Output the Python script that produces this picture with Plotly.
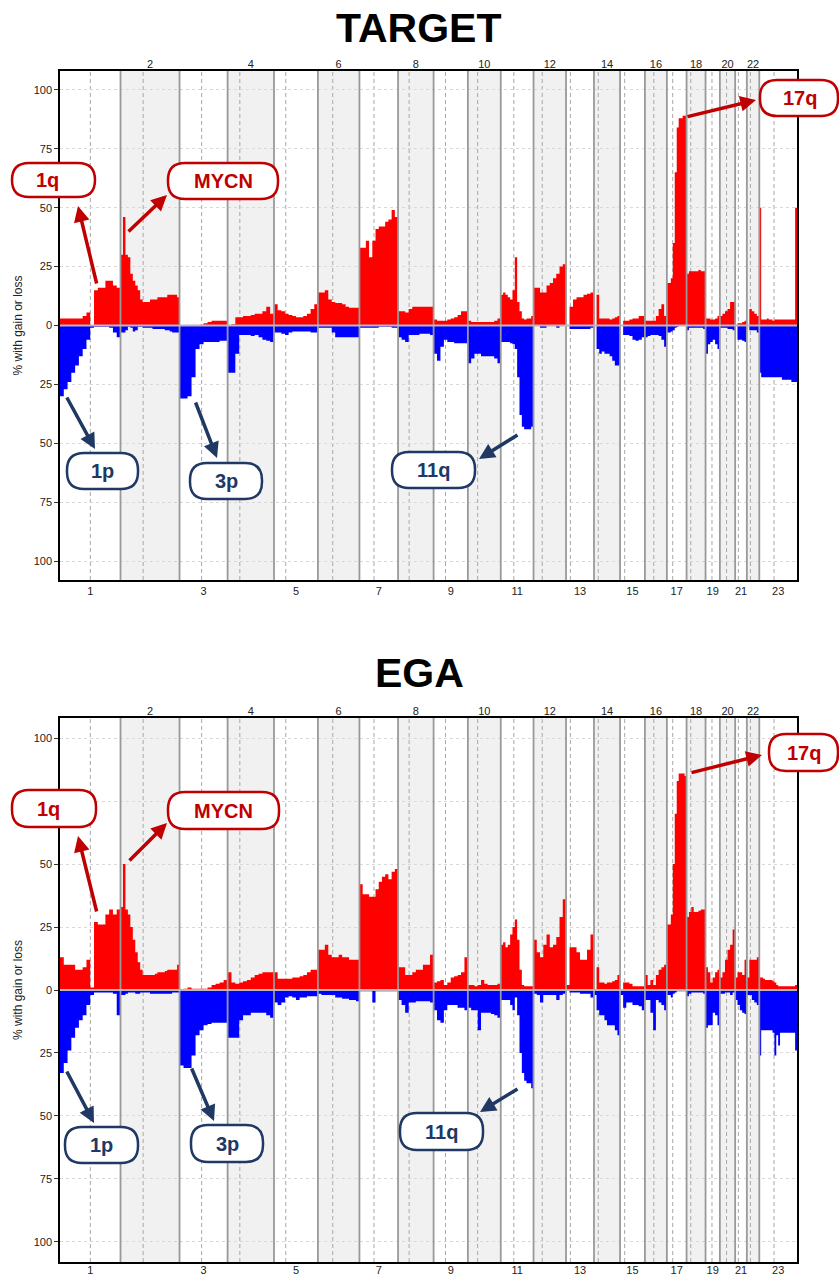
import plotly.graph_objects as go

# ---------------- data ----------------
CHROM_LABELS = ['1', '2', '3', '4', '5', '6', '7', '8', '9', '10', '11', '12',
                '13', '14', '15', '16', '17', '18', '19', '20', '21', '22', '23']
CHROM_LEN = [249.25, 243.2, 198.0, 191.15, 180.9, 171.1, 159.1, 146.4, 141.2, 135.5,
             135.0, 133.9, 115.2, 107.3, 102.5, 90.4, 81.2, 78.1, 59.1, 63.0, 48.1, 51.3, 155.3]
CENTROMERE = [125.0, 93.3, 91.0, 50.4, 48.4, 61.0, 59.9, 45.6, 49.0, 40.2, 53.7, 35.8,
              17.9, 17.6, 19.0, 36.6, 24.0, 17.2, 26.5, 27.5, 13.2, 14.7, 60.6]
Y_TICKS = [-100, -75, -50, -25, 0, 25, 50, 75, 100]
Y_TICK_TEXT = ['100', '75', '50', '25', '0', '25', '50', '75', '100']
# in the EGA panel the upper "75" label sits behind the 1q box
Y_TICK_TEXT_EGA = ['100', '75', '50', '25', '0', '25', '50', '', '100']

# % of samples with gain / loss, equal-width bins along each chromosome
TARGET_GAIN = [
    [3, 3, 3, 3, 3, 3, 4, 5.5, 0, 15, 16, 16, 19, 19, 17, 16],
    [30, 46, 30, 29, 22, 19, 17, 15, 11, 10, 10, 10, 11, 11, 11, 12, 12, 12, 12, 13, 13, 13, 13, 12],
    [0, 0, 0, 0, 0, 0.3, 1, 1.5, 2, 2, 2, 2],
    [0, 0.5, 3.5, 3.5, 4, 4, 4.5, 5, 5, 6, 8, 5],
    [9, 6.5, 6, 5, 4.5, 4, 3.5, 3.5, 4, 5, 7, 9],
    [14, 14, 15, 11, 10, 9.5, 9.5, 9, 8, 7.5, 7.5, 7.5],
    [33, 33, 36, 29, 36, 41, 42, 42, 44, 45, 49, 46],
    [6, 6, 5.5, 7, 8, 8, 8, 8, 8, 8],
    [2.5, 2, 2, 2, 2.5, 3, 3.5, 4.5, 6, 6],
    [2, 1.5, 1.5, 1.5, 1.5, 1.5, 1.5, 1.5, 2, 3],
    [13, 14, 13, 12, 11, 15, 29, 10, 6, 3, 2.5, 3, 3, 4],
    [16, 16, 14, 14, 17, 18, 20, 22, 25, 26],
    [0, 8, 11, 12, 12, 13, 13.5, 14],
    [0, 13, 3, 3, 3, 3, 2.5, 3, 3.5, 4],
    [0, 2, 2, 2.5, 3, 3, 4, 4],
    [2, 2, 2, 2, 4, 7, 9, 4],
    [18, 18, 20, 35, 65, 84, 88, 88, 89, 89],
    [22, 23, 23, 23, 23, 23.5, 23, 23],
    [3, 3, 2.5, 2.5, 3, 4],
    [4, 5, 6, 7, 10, 10],
    [0, 1, 1, 1.5, 2],
    [0, 7, 6, 5, 4],
    [50, 2.5, 2.5, 2.5, 3, 2.5, 2.5, 2, 2.5, 2.5, 2.5, 2.5, 2.5, 2.5, 2.5, 2.5, 2.5, 2.5, 2.5, 50],
]
TARGET_LOSS = [
    [30, 27, 24, 20, 17, 13, 10, 6, 1, 0.5, 0.5, 0.5, 0.5, 1, 3, 5],
    [3, 3, 2, 0.5, 1, 2.5, 2, 0.5, 0.5, 1, 1, 1, 1, 1.5, 1.5, 1.5, 1.5, 1.5, 2, 2, 2.5, 3, 3, 3],
    [31, 31, 30, 22, 10, 8, 7, 7, 7, 7, 6.5, 6.5],
    [20, 20, 12, 4, 4, 4, 4.5, 4, 5, 6, 6.5, 7],
    [3, 3, 3.5, 4, 3, 2.5, 2.5, 2.5, 2.5, 2.5, 3, 3],
    [1, 1, 1, 1, 3, 5, 5, 5, 5, 5, 5, 5],
    [1, 1, 1, 1, 1, 1, 0.5, 0.5, 0.5, 0.5, 1, 1],
    [5, 6, 7, 4, 4, 4, 3.5, 3.5, 3.5, 4],
    [12, 15, 9, 6, 7, 7, 7.5, 7.5, 7.5, 7.5],
    [16, 14, 12, 12, 13, 13, 13, 13, 14, 16],
    [7, 7, 7, 7, 7.5, 8, 10, 22, 38, 43, 44, 44, 44, 43],
    [0, 0, 1, 1, 0, 0, 0, 1, 0, 0],
    [0, 1.5, 1.5, 1.5, 1.5, 1.5, 1.5, 1],
    [0, 10, 12, 11, 12, 12, 13, 15, 17, 17],
    [0, 4, 4, 4.5, 6, 6.5, 6, 5],
    [5, 4.5, 4, 4, 4, 4.5, 6, 9],
    [3, 3, 2.5, 2, 1, 0.5, 0, 0, 0, 0],
    [2, 1, 1, 1, 1, 1, 1, 1.5],
    [12, 8, 7, 6, 8, 10],
    [1, 1, 1, 1.5, 1.5, 2],
    [0, 6, 6, 6.5, 7],
    [0, 2, 2, 2, 3],
    [20, 22, 22, 22, 22, 22, 22, 22, 22, 22, 22, 22, 23, 23, 23, 23, 23, 24, 24, 24],
]
EGA_GAIN = [
    [13, 10, 10, 10, 8, 8, 9, 12, 1, 27, 26, 26, 30, 32, 30, 32],
    [33, 50, 32, 30, 25, 20, 15, 11, 8, 6, 6, 6, 6, 6, 6.5, 7, 7, 7, 7.5, 8, 8, 8, 8, 10],
    [0, 0.5, 1, 0.5, 0.5, 0.5, 0.5, 1, 2, 2.5, 3, 4],
    [7, 3, 2.5, 3, 3.5, 4, 5, 6, 6.5, 7, 7, 7],
    [7, 4.5, 4.5, 4.5, 4.5, 5, 5, 5.5, 6, 7, 8, 8],
    [16, 16, 18, 14, 13, 13, 14, 13, 13, 12, 12, 12],
    [42, 38, 38, 37, 37, 40, 43, 45, 46, 44, 47, 48],
    [9, 9, 6, 6, 7, 8, 8, 10, 10, 14],
    [3, 3.5, 4, 2, 3, 5, 5.5, 6, 7, 13],
    [2, 2, 1.5, 2, 4, 2.5, 2, 2, 2, 2.5],
    [18, 19, 17, 18, 22, 25, 28, 20, 8, 2, 1.5, 1.5, 1.5, 1.5],
    [20, 15, 13, 18, 22, 17, 18, 21, 29, 36],
    [2, 17, 17, 15, 12, 12, 16, 22],
    [0, 9, 3, 3, 2.5, 3, 3, 3.5, 4, 6],
    [0, 3, 3, 2.5, 1.5, 1.5, 1.5, 1.5],
    [6, 2, 4, 2, 6, 8, 9, 10],
    [26, 26, 30, 50, 70, 83, 86, 86, 86, 85],
    [29, 31, 33, 31, 31, 31.5, 32, 32],
    [9, 7, 3, 5, 7, 8],
    [5, 7, 12, 16, 18, 24],
    [5, 7, 7, 6, 12],
    [5, 12, 12, 12, 13],
    [5, 5, 4.5, 4, 4, 4, 4, 3.5, 3, 2, 1.5, 1.5, 1.5, 1.5, 1.5, 1.5, 1.5, 1.5, 1.5, 2],
]
EGA_LOSS = [
    [33, 29, 24, 19, 15, 12, 10, 6, 2, 1, 1, 1, 1, 1, 1.5, 10],
    [2, 2, 1.5, 1, 1, 1, 1.5, 1.5, 1, 1, 1, 1, 1.5, 1.5, 1.5, 1.5, 1.5, 1.5, 1.5, 1.5, 1.5, 1, 1, 1],
    [30, 31, 31, 26, 18, 16, 14, 13.5, 13, 13, 13, 13],
    [19, 19, 19, 12, 10, 10, 9, 9, 9, 9, 10, 11],
    [5, 6, 5, 3, 2.5, 3, 4, 3, 3, 2.5, 2.5, 2.5],
    [1.5, 2, 2, 2, 2, 3, 3, 3.5, 3.5, 4, 4, 4.5],
    [0.5, 0.5, 0.5, 0.5, 5, 0.5, 0.5, 0.5, 0.5, 0.5, 0.5, 0.5],
    [4, 6, 9, 5, 5, 4.5, 4.5, 4.5, 4.5, 5],
    [8, 12, 13, 8, 6, 6, 6, 7, 7, 8],
    [7, 8, 8, 16, 9, 9, 9, 9.5, 10, 11],
    [4, 4, 4, 4, 6, 8, 3, 10, 25, 33, 36, 37, 37, 39],
    [1.5, 2, 5, 2, 2, 2, 2, 4, 2, 1.5],
    [0, 1, 1, 1, 1.5, 1.5, 1.5, 3],
    [2, 8, 10, 10, 12, 14, 14, 14, 16, 18],
    [2, 7, 5, 5, 6, 6, 6.5, 8],
    [4, 4, 9, 16, 4, 5, 6, 8],
    [2, 2, 3, 1.5, 1, 0.5, 0.5, 0.5, 0.5, 0.5],
    [2.5, 1.5, 1, 1, 1, 1, 1, 1.5],
    [15, 14, 14, 9, 10, 14],
    [1.5, 1.5, 1, 1, 2, 1],
    [4, 6, 8, 9, 9.5],
    [2, 2, 4, 5, 6],
    [26, 16, 16, 16, 16, 16, 16, 17, 26, 18, 22, 17, 17, 17, 17, 17, 17, 17, 17, 24],
]

# ---------------- geometry helpers ----------------
W, H = 839, 1276
ML, MR, MT, MB = 60, 42, 71, 14
PW, PH = W - ML - MR, H - MT - MB


def px2paper(xp, yp):
    return (xp - ML) / PW, (H - MB - yp) / PH


starts = []
acc = 0.0
for L in CHROM_LEN:
    starts.append(acc)
    acc += L
TOTAL = acc
mids = [s + L / 2 for s, L in zip(starts, CHROM_LEN)]


def build_xy(values, sign):
    xs, ys = [], []
    for s, L, vals in zip(starts, CHROM_LEN, values):
        n = len(vals)
        for i, v in enumerate(vals):
            xs.append(s + L * i / n)
            ys.append(sign * v)
    xs.append(TOTAL)
    ys.append(sign * values[-1][-1])
    return xs, ys


RED = '#ff0000'
BLUE = '#0000ff'
DARKRED = '#c00000'
NAVY = '#203864'
FONT = 'Liberation Sans, Arial, sans-serif'

fig = go.Figure()

panels = [
    dict(gain=TARGET_GAIN, loss=TARGET_LOSS, xa='x', xt='x2', ya='y'),
    dict(gain=EGA_GAIN, loss=EGA_LOSS, xa='x3', xt='x4', ya='y2'),
]
for p in panels:
    for vals, sign, col in ((p['gain'], 1, RED), (p['loss'], -1, BLUE)):
        xs, ys = build_xy(vals, sign)
        fig.add_trace(go.Scatter(x=xs, y=ys, mode='lines',
                                 line=dict(width=0, color=col, shape='hv'),
                                 fill='tozeroy', fillcolor=col,
                                 xaxis=p['xa'], yaxis=p['ya'],
                                 hoverinfo='skip', showlegend=False))
    # invisible trace so the top axis is drawn
    fig.add_trace(go.Scatter(x=[0], y=[0], mode='markers', marker=dict(opacity=0),
                             xaxis=p['xt'], yaxis=p['ya'], hoverinfo='skip', showlegend=False))

shapes = []
for p in panels:
    xa, ya = p['xa'], p['ya']
    for i, (s, L) in enumerate(zip(starts, CHROM_LEN)):
        if i % 2 == 1:
            shapes.append(dict(type='rect', xref=xa, yref=ya + ' domain', x0=s, x1=s + L,
                               y0=0, y1=1, fillcolor='#f1f1f1', line=dict(width=0), layer='below'))
    for s, c in zip(starts, CENTROMERE):
        shapes.append(dict(type='line', xref=xa, yref=ya + ' domain', x0=s + c, x1=s + c,
                           y0=0, y1=1, line=dict(color='#a8a8a8', width=1, dash='4px,3px'),
                           layer='below'))
    for s in starts[1:]:
        shapes.append(dict(type='line', xref=xa, yref=ya + ' domain', x0=s, x1=s,
                           y0=0, y1=1, line=dict(color='#999999', width=1.8), layer='above'))
    shapes.append(dict(type='line', xref=xa + ' domain', yref=ya, x0=0, x1=1, y0=0, y1=0,
                       line=dict(color='#b8b8c0', width=2), layer='above'))

annotations = []
# Titles
for title, yp in (('TARGET', 28), ('EGA', 673)):
    xpp, ypp = px2paper(419, yp)
    annotations.append(dict(text='<b>%s</b>' % title, xref='paper', yref='paper', x=xpp, y=ypp,
                            showarrow=False, xanchor='center', yanchor='middle',
                            font=dict(size=41, color='black', family=FONT)))

# Label boxes (label, colour, x0, y0, x1, y1, text shift) in page pixels
BOXES = [
    ('1q', DARKRED, 12, 163, 95, 197, -6), ('MYCN', DARKRED, 168, 163, 278, 199, 0),
    ('17q', DARKRED, 760, 80, 838, 116, 1), ('1p', NAVY, 67, 453, 138, 489, 0),
    ('3p', NAVY, 190, 463, 262, 499, 0), ('11q', NAVY, 392, 452, 475, 488, 0),
    ('1q', DARKRED, 12, 790, 96, 827, -6), ('MYCN', DARKRED, 168, 792, 279, 829, 0),
    ('17q', DARKRED, 769, 734, 838, 771, 1), ('1p', NAVY, 65, 1127, 138, 1163, 0),
    ('3p', NAVY, 191, 1125, 263, 1162, 0), ('11q', NAVY, 400, 1113, 483, 1150, 0),
]
R = 17
for lab, col, x0, y0, x1, y1, dx in BOXES:
    a0, b0 = px2paper(x0, y0)
    a1, b1 = px2paper(x1, y1)
    rx, ry = R / PW, R / PH
    path = (f'M {a0+rx},{b0} L {a1-rx},{b0} Q {a1},{b0} {a1},{b0-ry} '
            f'L {a1},{b1+ry} Q {a1},{b1} {a1-rx},{b1} L {a0+rx},{b1} '
            f'Q {a0},{b1} {a0},{b1+ry} L {a0},{b0-ry} Q {a0},{b0} {a0+rx},{b0} Z')
    shapes.append(dict(type='path', path=path, xref='paper', yref='paper',
                       fillcolor='white', line=dict(color=col, width=2.5), layer='above'))
    cx, cy = px2paper((x0 + x1) / 2 + dx, (y0 + y1) / 2)
    annotations.append(dict(text='<b>%s</b>' % lab, xref='paper', yref='paper', x=cx, y=cy,
                            showarrow=False, xanchor='center', yanchor='middle',
                            font=dict(size=20, color=col, family=FONT)))

# Arrows (colour, tail x, tail y, head x, head y) in page pixels
ARROWS = [
    (DARKRED, 97, 285, 78, 206), (DARKRED, 127, 233, 167, 195), (DARKRED, 686, 117, 756, 100),
    (NAVY, 66, 396, 95, 449), (NAVY, 195, 401, 217, 458), (NAVY, 519, 434, 479, 459),
    (DARKRED, 97, 913, 78, 836), (DARKRED, 128, 862, 167, 823), (DARKRED, 690, 773, 762, 755),
    (NAVY, 66, 1070, 94, 1123), (NAVY, 191, 1067, 214, 1121), (NAVY, 519, 1088, 480, 1112),
]
for col, tx, ty, hx, hy in ARROWS:
    xpp, ypp = px2paper(hx, hy)
    annotations.append(dict(text='', xref='paper', yref='paper', x=xpp, y=ypp,
                            ax=tx - hx, ay=ty - hy, showarrow=True, arrowhead=2,
                            arrowsize=0.9, arrowwidth=3.5, arrowcolor=col, standoff=0))

odd_idx = list(range(0, 23, 2))
even_idx = list(range(1, 23, 2))
tickfont = dict(size=11, color='#222', family=FONT)


def xaxis_bottom(anchor, standoff=0):
    return dict(anchor=anchor, domain=[0, 1], range=[0, TOTAL],
                tickvals=[mids[i] for i in odd_idx], ticktext=[CHROM_LABELS[i] for i in odd_idx],
                ticks='', showgrid=False, zeroline=False, showline=True, linecolor='black',
                linewidth=1.5, mirror=True, tickfont=tickfont, automargin=False, fixedrange=True,
                ticklabelstandoff=standoff)


def xaxis_top(over, anchor):
    return dict(overlaying=over, anchor=anchor, side='top', range=[0, TOTAL],
                tickvals=[mids[i] for i in even_idx], ticktext=[CHROM_LABELS[i] for i in even_idx],
                ticks='', showgrid=False, zeroline=False, showline=False,
                tickfont=tickfont, automargin=False, fixedrange=True)


def yaxis(anchor, dom, ticktext):
    return dict(anchor=anchor, domain=dom, range=[-108, 108], tickvals=Y_TICKS, ticktext=ticktext,
                ticks='outside', ticklen=4, tickcolor='#333', showgrid=True, gridcolor='#d9d9d9',
                griddash='dot', gridwidth=1, zeroline=False, showline=True, linecolor='black',
                linewidth=1.5, mirror=True, tickfont=tickfont, automargin=False, fixedrange=True,
                title=dict(text='% with gain or loss', font=dict(size=12, color='#222', family=FONT),
                           standoff=8))


top_dom = [(H - MB - 580) / PH, 1]
bot_dom = [0, (H - MB - 718) / PH]

fig.update_layout(
    width=W, height=H,
    margin=dict(l=ML, r=MR, t=MT, b=MB),
    paper_bgcolor='white', plot_bgcolor='white',
    font=dict(family=FONT),
    xaxis=xaxis_bottom('y'), xaxis2=xaxis_top('x', 'y'),
    xaxis3=xaxis_bottom('y2', -3), xaxis4=xaxis_top('x3', 'y2'),
    yaxis=yaxis('x', top_dom, Y_TICK_TEXT), yaxis2=yaxis('x3', bot_dom, Y_TICK_TEXT_EGA),
    shapes=shapes, annotations=annotations, showlegend=False,
)

fig.write_html('out.html', config={'displayModeBar': False},
               post_script="document.body.style.margin='0px';")
